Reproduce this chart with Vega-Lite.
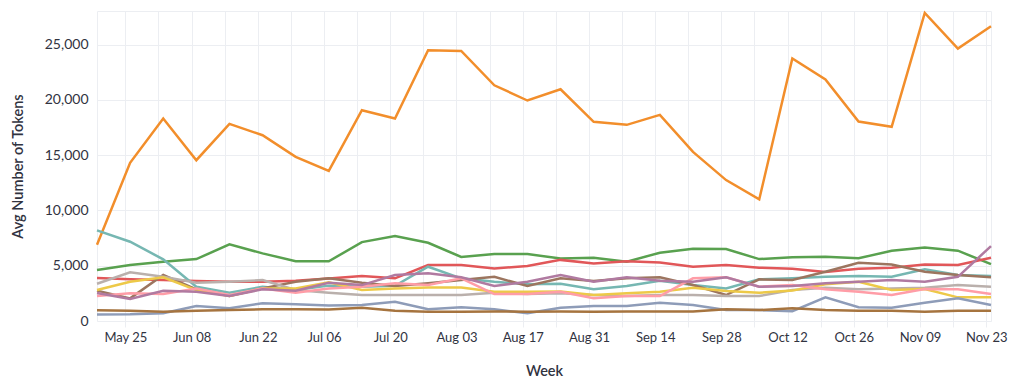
{
"$schema": "https://vega.github.io/schema/vega-lite/v6.json",
"width": 894, "height": 310,
"autosize": {"type": "none"},
"padding": {"left": 97, "top": 11, "right": 23, "bottom": 62},
"background": "white",
"config": {
  "font": "Lato",
  "view": {"stroke": "#ECEEF2", "strokeWidth": 1},
  "axis": {"gridColor": "#ECEEF2", "gridWidth": 1, "domain": false, "labelColor": "#31333F", "titleColor": "#31333F", "labelFontSize": 13, "titleFontSize": 14.5, "titleFontWeight": 600, "labelFont": "Lato", "titleFont": "Lato"}
},
"data": {"values": [
{"week":"2024-05-19","series":"S01","tokens":6900},{"week":"2024-05-26","series":"S01","tokens":14310},{"week":"2024-06-02","series":"S01","tokens":18320},{"week":"2024-06-09","series":"S01","tokens":14550},{"week":"2024-06-16","series":"S01","tokens":17840},{"week":"2024-06-23","series":"S01","tokens":16810},{"week":"2024-06-30","series":"S01","tokens":14850},{"week":"2024-07-07","series":"S01","tokens":13590},{"week":"2024-07-14","series":"S01","tokens":19070},{"week":"2024-07-21","series":"S01","tokens":18320},{"week":"2024-07-28","series":"S01","tokens":24500},{"week":"2024-08-04","series":"S01","tokens":24440},{"week":"2024-08-11","series":"S01","tokens":21330},{"week":"2024-08-18","series":"S01","tokens":19950},{"week":"2024-08-25","series":"S01","tokens":20970},{"week":"2024-09-01","series":"S01","tokens":18020},{"week":"2024-09-08","series":"S01","tokens":17750},{"week":"2024-09-15","series":"S01","tokens":18650},{"week":"2024-09-22","series":"S01","tokens":15300},{"week":"2024-09-29","series":"S01","tokens":12750},{"week":"2024-10-06","series":"S01","tokens":11000},{"week":"2024-10-13","series":"S01","tokens":23750},{"week":"2024-10-20","series":"S01","tokens":21850},{"week":"2024-10-27","series":"S01","tokens":18050},{"week":"2024-11-03","series":"S01","tokens":17570},{"week":"2024-11-10","series":"S01","tokens":27870},{"week":"2024-11-17","series":"S01","tokens":24650},{"week":"2024-11-24","series":"S01","tokens":26670},
{"week":"2024-05-19","series":"S02","tokens":4610},{"week":"2024-05-26","series":"S02","tokens":5060},{"week":"2024-06-02","series":"S02","tokens":5360},{"week":"2024-06-09","series":"S02","tokens":5600},{"week":"2024-06-16","series":"S02","tokens":6930},{"week":"2024-06-23","series":"S02","tokens":6120},{"week":"2024-06-30","series":"S02","tokens":5400},{"week":"2024-07-07","series":"S02","tokens":5400},{"week":"2024-07-14","series":"S02","tokens":7140},{"week":"2024-07-21","series":"S02","tokens":7680},{"week":"2024-07-28","series":"S02","tokens":7080},{"week":"2024-08-04","series":"S02","tokens":5790},{"week":"2024-08-11","series":"S02","tokens":6060},{"week":"2024-08-18","series":"S02","tokens":6060},{"week":"2024-08-25","series":"S02","tokens":5650},{"week":"2024-09-01","series":"S02","tokens":5730},{"week":"2024-09-08","series":"S02","tokens":5360},{"week":"2024-09-15","series":"S02","tokens":6180},{"week":"2024-09-22","series":"S02","tokens":6540},{"week":"2024-09-29","series":"S02","tokens":6510},{"week":"2024-10-06","series":"S02","tokens":5600},{"week":"2024-10-13","series":"S02","tokens":5760},{"week":"2024-10-20","series":"S02","tokens":5810},{"week":"2024-10-27","series":"S02","tokens":5670},{"week":"2024-11-03","series":"S02","tokens":6360},{"week":"2024-11-10","series":"S02","tokens":6660},{"week":"2024-11-17","series":"S02","tokens":6360},{"week":"2024-11-24","series":"S02","tokens":5150},
{"week":"2024-05-19","series":"S03","tokens":3900},{"week":"2024-05-26","series":"S03","tokens":3770},{"week":"2024-06-02","series":"S03","tokens":3700},{"week":"2024-06-09","series":"S03","tokens":3620},{"week":"2024-06-16","series":"S03","tokens":3550},{"week":"2024-06-23","series":"S03","tokens":3550},{"week":"2024-06-30","series":"S03","tokens":3640},{"week":"2024-07-07","series":"S03","tokens":3840},{"week":"2024-07-14","series":"S03","tokens":4070},{"week":"2024-07-21","series":"S03","tokens":3860},{"week":"2024-07-28","series":"S03","tokens":5060},{"week":"2024-08-04","series":"S03","tokens":5060},{"week":"2024-08-11","series":"S03","tokens":4760},{"week":"2024-08-18","series":"S03","tokens":4970},{"week":"2024-08-25","series":"S03","tokens":5530},{"week":"2024-09-01","series":"S03","tokens":5210},{"week":"2024-09-08","series":"S03","tokens":5400},{"week":"2024-09-15","series":"S03","tokens":5300},{"week":"2024-09-22","series":"S03","tokens":4910},{"week":"2024-09-29","series":"S03","tokens":5060},{"week":"2024-10-06","series":"S03","tokens":4820},{"week":"2024-10-13","series":"S03","tokens":4730},{"week":"2024-10-20","series":"S03","tokens":4430},{"week":"2024-10-27","series":"S03","tokens":4730},{"week":"2024-11-03","series":"S03","tokens":4820},{"week":"2024-11-10","series":"S03","tokens":5120},{"week":"2024-11-17","series":"S03","tokens":5060},{"week":"2024-11-24","series":"S03","tokens":5720},
{"week":"2024-05-19","series":"S04","tokens":8200},{"week":"2024-05-26","series":"S04","tokens":7170},{"week":"2024-06-02","series":"S04","tokens":5580},{"week":"2024-06-09","series":"S04","tokens":3100},{"week":"2024-06-16","series":"S04","tokens":2560},{"week":"2024-06-23","series":"S04","tokens":3100},{"week":"2024-06-30","series":"S04","tokens":2800},{"week":"2024-07-07","series":"S04","tokens":3200},{"week":"2024-07-14","series":"S04","tokens":3100},{"week":"2024-07-21","series":"S04","tokens":3190},{"week":"2024-07-28","series":"S04","tokens":4910},{"week":"2024-08-04","series":"S04","tokens":3860},{"week":"2024-08-11","series":"S04","tokens":3550},{"week":"2024-08-18","series":"S04","tokens":3320},{"week":"2024-08-25","series":"S04","tokens":3360},{"week":"2024-09-01","series":"S04","tokens":2870},{"week":"2024-09-08","series":"S04","tokens":3160},{"week":"2024-09-15","series":"S04","tokens":3640},{"week":"2024-09-22","series":"S04","tokens":3250},{"week":"2024-09-29","series":"S04","tokens":2950},{"week":"2024-10-06","series":"S04","tokens":3770},{"week":"2024-10-13","series":"S04","tokens":3860},{"week":"2024-10-20","series":"S04","tokens":4000},{"week":"2024-10-27","series":"S04","tokens":4070},{"week":"2024-11-03","series":"S04","tokens":4000},{"week":"2024-11-10","series":"S04","tokens":4670},{"week":"2024-11-17","series":"S04","tokens":4160},{"week":"2024-11-24","series":"S04","tokens":4070},
{"week":"2024-05-19","series":"S05","tokens":2750},{"week":"2024-05-26","series":"S05","tokens":2050},{"week":"2024-06-02","series":"S05","tokens":4160},{"week":"2024-06-09","series":"S05","tokens":2870},{"week":"2024-06-16","series":"S05","tokens":2260},{"week":"2024-06-23","series":"S05","tokens":2950},{"week":"2024-06-30","series":"S05","tokens":3550},{"week":"2024-07-07","series":"S05","tokens":3860},{"week":"2024-07-14","series":"S05","tokens":3460},{"week":"2024-07-21","series":"S05","tokens":3160},{"week":"2024-07-28","series":"S05","tokens":3410},{"week":"2024-08-04","series":"S05","tokens":3700},{"week":"2024-08-11","series":"S05","tokens":4000},{"week":"2024-08-18","series":"S05","tokens":3160},{"week":"2024-08-25","series":"S05","tokens":3860},{"week":"2024-09-01","series":"S05","tokens":3620},{"week":"2024-09-08","series":"S05","tokens":3860},{"week":"2024-09-15","series":"S05","tokens":3950},{"week":"2024-09-22","series":"S05","tokens":3250},{"week":"2024-09-29","series":"S05","tokens":2350},{"week":"2024-10-06","series":"S05","tokens":3770},{"week":"2024-10-13","series":"S05","tokens":3720},{"week":"2024-10-20","series":"S05","tokens":4460},{"week":"2024-10-27","series":"S05","tokens":5270},{"week":"2024-11-03","series":"S05","tokens":5120},{"week":"2024-11-10","series":"S05","tokens":4460},{"week":"2024-11-17","series":"S05","tokens":4160},{"week":"2024-11-24","series":"S05","tokens":3950},
{"week":"2024-05-19","series":"S06","tokens":3370},{"week":"2024-05-26","series":"S06","tokens":4400},{"week":"2024-06-02","series":"S06","tokens":4000},{"week":"2024-06-09","series":"S06","tokens":3460},{"week":"2024-06-16","series":"S06","tokens":3550},{"week":"2024-06-23","series":"S06","tokens":3700},{"week":"2024-06-30","series":"S06","tokens":2800},{"week":"2024-07-07","series":"S06","tokens":2550},{"week":"2024-07-14","series":"S06","tokens":2350},{"week":"2024-07-21","series":"S06","tokens":2350},{"week":"2024-07-28","series":"S06","tokens":2350},{"week":"2024-08-04","series":"S06","tokens":2350},{"week":"2024-08-11","series":"S06","tokens":2560},{"week":"2024-08-18","series":"S06","tokens":2440},{"week":"2024-08-25","series":"S06","tokens":2500},{"week":"2024-09-01","series":"S06","tokens":2350},{"week":"2024-09-08","series":"S06","tokens":2260},{"week":"2024-09-15","series":"S06","tokens":2350},{"week":"2024-09-22","series":"S06","tokens":2350},{"week":"2024-09-29","series":"S06","tokens":2260},{"week":"2024-10-06","series":"S06","tokens":2260},{"week":"2024-10-13","series":"S06","tokens":2800},{"week":"2024-10-20","series":"S06","tokens":3010},{"week":"2024-10-27","series":"S06","tokens":2870},{"week":"2024-11-03","series":"S06","tokens":2950},{"week":"2024-11-10","series":"S06","tokens":3010},{"week":"2024-11-17","series":"S06","tokens":3250},{"week":"2024-11-24","series":"S06","tokens":3100},
{"week":"2024-05-19","series":"S07","tokens":2800},{"week":"2024-05-26","series":"S07","tokens":3550},{"week":"2024-06-02","series":"S07","tokens":3950},{"week":"2024-06-09","series":"S07","tokens":2800},{"week":"2024-06-16","series":"S07","tokens":2260},{"week":"2024-06-23","series":"S07","tokens":2950},{"week":"2024-06-30","series":"S07","tokens":2950},{"week":"2024-07-07","series":"S07","tokens":3500},{"week":"2024-07-14","series":"S07","tokens":2800},{"week":"2024-07-21","series":"S07","tokens":2950},{"week":"2024-07-28","series":"S07","tokens":3040},{"week":"2024-08-04","series":"S07","tokens":3040},{"week":"2024-08-11","series":"S07","tokens":2650},{"week":"2024-08-18","series":"S07","tokens":2650},{"week":"2024-08-25","series":"S07","tokens":2680},{"week":"2024-09-01","series":"S07","tokens":2350},{"week":"2024-09-08","series":"S07","tokens":2500},{"week":"2024-09-15","series":"S07","tokens":2650},{"week":"2024-09-22","series":"S07","tokens":3010},{"week":"2024-09-29","series":"S07","tokens":2710},{"week":"2024-10-06","series":"S07","tokens":2560},{"week":"2024-10-13","series":"S07","tokens":2750},{"week":"2024-10-20","series":"S07","tokens":3320},{"week":"2024-10-27","series":"S07","tokens":3550},{"week":"2024-11-03","series":"S07","tokens":2800},{"week":"2024-11-10","series":"S07","tokens":2890},{"week":"2024-11-17","series":"S07","tokens":2140},{"week":"2024-11-24","series":"S07","tokens":2140},
{"week":"2024-05-19","series":"S08","tokens":2260},{"week":"2024-05-26","series":"S08","tokens":2500},{"week":"2024-06-02","series":"S08","tokens":2440},{"week":"2024-06-09","series":"S08","tokens":2950},{"week":"2024-06-16","series":"S08","tokens":2350},{"week":"2024-06-23","series":"S08","tokens":2950},{"week":"2024-06-30","series":"S08","tokens":2560},{"week":"2024-07-07","series":"S08","tokens":2950},{"week":"2024-07-14","series":"S08","tokens":3100},{"week":"2024-07-21","series":"S08","tokens":3410},{"week":"2024-07-28","series":"S08","tokens":3250},{"week":"2024-08-04","series":"S08","tokens":3860},{"week":"2024-08-11","series":"S08","tokens":2440},{"week":"2024-08-18","series":"S08","tokens":2440},{"week":"2024-08-25","series":"S08","tokens":2650},{"week":"2024-09-01","series":"S08","tokens":2050},{"week":"2024-09-08","series":"S08","tokens":2260},{"week":"2024-09-15","series":"S08","tokens":2260},{"week":"2024-09-22","series":"S08","tokens":3860},{"week":"2024-09-29","series":"S08","tokens":3950},{"week":"2024-10-06","series":"S08","tokens":3100},{"week":"2024-10-13","series":"S08","tokens":3250},{"week":"2024-10-20","series":"S08","tokens":2870},{"week":"2024-10-27","series":"S08","tokens":2650},{"week":"2024-11-03","series":"S08","tokens":2350},{"week":"2024-11-10","series":"S08","tokens":2890},{"week":"2024-11-17","series":"S08","tokens":2870},{"week":"2024-11-24","series":"S08","tokens":2440},
{"week":"2024-05-19","series":"S09","tokens":2530},{"week":"2024-05-26","series":"S09","tokens":1990},{"week":"2024-06-02","series":"S09","tokens":2740},{"week":"2024-06-09","series":"S09","tokens":2650},{"week":"2024-06-16","series":"S09","tokens":2260},{"week":"2024-06-23","series":"S09","tokens":2870},{"week":"2024-06-30","series":"S09","tokens":2740},{"week":"2024-07-07","series":"S09","tokens":3450},{"week":"2024-07-14","series":"S09","tokens":3250},{"week":"2024-07-21","series":"S09","tokens":4160},{"week":"2024-07-28","series":"S09","tokens":4310},{"week":"2024-08-04","series":"S09","tokens":3950},{"week":"2024-08-11","series":"S09","tokens":3160},{"week":"2024-08-18","series":"S09","tokens":3550},{"week":"2024-08-25","series":"S09","tokens":4160},{"week":"2024-09-01","series":"S09","tokens":3550},{"week":"2024-09-08","series":"S09","tokens":3950},{"week":"2024-09-15","series":"S09","tokens":3640},{"week":"2024-09-22","series":"S09","tokens":3550},{"week":"2024-09-29","series":"S09","tokens":3950},{"week":"2024-10-06","series":"S09","tokens":3100},{"week":"2024-10-13","series":"S09","tokens":3170},{"week":"2024-10-20","series":"S09","tokens":3410},{"week":"2024-10-27","series":"S09","tokens":3550},{"week":"2024-11-03","series":"S09","tokens":3700},{"week":"2024-11-10","series":"S09","tokens":3550},{"week":"2024-11-17","series":"S09","tokens":4000},{"week":"2024-11-24","series":"S09","tokens":6780},
{"week":"2024-05-19","series":"S10","tokens":580},{"week":"2024-05-26","series":"S10","tokens":600},{"week":"2024-06-02","series":"S10","tokens":700},{"week":"2024-06-09","series":"S10","tokens":1360},{"week":"2024-06-16","series":"S10","tokens":1150},{"week":"2024-06-23","series":"S10","tokens":1600},{"week":"2024-06-30","series":"S10","tokens":1510},{"week":"2024-07-07","series":"S10","tokens":1400},{"week":"2024-07-14","series":"S10","tokens":1450},{"week":"2024-07-21","series":"S10","tokens":1750},{"week":"2024-07-28","series":"S10","tokens":1060},{"week":"2024-08-04","series":"S10","tokens":1240},{"week":"2024-08-11","series":"S10","tokens":1060},{"week":"2024-08-18","series":"S10","tokens":700},{"week":"2024-08-25","series":"S10","tokens":1200},{"week":"2024-09-01","series":"S10","tokens":1360},{"week":"2024-09-08","series":"S10","tokens":1360},{"week":"2024-09-15","series":"S10","tokens":1650},{"week":"2024-09-22","series":"S10","tokens":1450},{"week":"2024-09-29","series":"S10","tokens":990},{"week":"2024-10-06","series":"S10","tokens":990},{"week":"2024-10-13","series":"S10","tokens":880},{"week":"2024-10-20","series":"S10","tokens":2140},{"week":"2024-10-27","series":"S10","tokens":1240},{"week":"2024-11-03","series":"S10","tokens":1200},{"week":"2024-11-10","series":"S10","tokens":1650},{"week":"2024-11-17","series":"S10","tokens":2050},{"week":"2024-11-24","series":"S10","tokens":1450},
{"week":"2024-05-19","series":"S11","tokens":980},{"week":"2024-05-26","series":"S11","tokens":930},{"week":"2024-06-02","series":"S11","tokens":840},{"week":"2024-06-09","series":"S11","tokens":930},{"week":"2024-06-16","series":"S11","tokens":990},{"week":"2024-06-23","series":"S11","tokens":1060},{"week":"2024-06-30","series":"S11","tokens":1060},{"week":"2024-07-07","series":"S11","tokens":1030},{"week":"2024-07-14","series":"S11","tokens":1200},{"week":"2024-07-21","series":"S11","tokens":930},{"week":"2024-07-28","series":"S11","tokens":840},{"week":"2024-08-04","series":"S11","tokens":840},{"week":"2024-08-11","series":"S11","tokens":870},{"week":"2024-08-18","series":"S11","tokens":840},{"week":"2024-08-25","series":"S11","tokens":860},{"week":"2024-09-01","series":"S11","tokens":840},{"week":"2024-09-08","series":"S11","tokens":860},{"week":"2024-09-15","series":"S11","tokens":860},{"week":"2024-09-22","series":"S11","tokens":870},{"week":"2024-09-29","series":"S11","tokens":1060},{"week":"2024-10-06","series":"S11","tokens":990},{"week":"2024-10-13","series":"S11","tokens":1150},{"week":"2024-10-20","series":"S11","tokens":990},{"week":"2024-10-27","series":"S11","tokens":930},{"week":"2024-11-03","series":"S11","tokens":930},{"week":"2024-11-10","series":"S11","tokens":840},{"week":"2024-11-17","series":"S11","tokens":930},{"week":"2024-11-24","series":"S11","tokens":930}
]},
"mark": {"type": "line", "strokeWidth": 2.5},
"encoding": {
  "x": {"field": "week", "type": "temporal",
    "scale": {"type": "utc", "domain": [{"year": 2024, "month": 5, "date": 19, "utc": true}, {"year": 2024, "month": 11, "date": 24, "utc": true}]},
    "axis": {"title": "Week", "titlePadding": 20, "format": "%b %d", "formatType": "utc", "labelPadding": 4, "tickSize": 6, "tickColor": "#ECEEF2", "labelFlush": false, "labelOverlap": false,
      "labelExpr": "round((datum.value - 1716595200000) / 604800000) % 2 == 0 ? utcFormat(datum.value, '%b %d') : ''",
      "values": [
        {"year":2024,"month":5,"date":25,"utc":true},{"year":2024,"month":6,"date":1,"utc":true},{"year":2024,"month":6,"date":8,"utc":true},{"year":2024,"month":6,"date":15,"utc":true},{"year":2024,"month":6,"date":22,"utc":true},{"year":2024,"month":6,"date":29,"utc":true},{"year":2024,"month":7,"date":6,"utc":true},{"year":2024,"month":7,"date":13,"utc":true},{"year":2024,"month":7,"date":20,"utc":true},{"year":2024,"month":7,"date":27,"utc":true},{"year":2024,"month":8,"date":3,"utc":true},{"year":2024,"month":8,"date":10,"utc":true},{"year":2024,"month":8,"date":17,"utc":true},{"year":2024,"month":8,"date":24,"utc":true},{"year":2024,"month":8,"date":31,"utc":true},{"year":2024,"month":9,"date":7,"utc":true},{"year":2024,"month":9,"date":14,"utc":true},{"year":2024,"month":9,"date":21,"utc":true},{"year":2024,"month":9,"date":28,"utc":true},{"year":2024,"month":10,"date":5,"utc":true},{"year":2024,"month":10,"date":12,"utc":true},{"year":2024,"month":10,"date":19,"utc":true},{"year":2024,"month":10,"date":26,"utc":true},{"year":2024,"month":11,"date":2,"utc":true},{"year":2024,"month":11,"date":9,"utc":true},{"year":2024,"month":11,"date":16,"utc":true},{"year":2024,"month":11,"date":23,"utc":true}
      ]}},
  "y": {"field": "tokens", "type": "quantitative",
    "scale": {"domain": [0, 28050], "nice": false, "zero": true},
    "axis": {"title": "Avg Number of Tokens", "values": [0, 5000, 10000, 15000, 20000, 25000], "format": ",.0f", "ticks": false, "labelPadding": 9, "labelFontSize": 14, "titlePadding": 19}},
  "color": {"field": "series", "type": "nominal", "legend": null,
    "scale": {"domain": ["S01","S02","S03","S04","S05","S06","S07","S08","S09","S10","S11"],
      "range": ["#F28E2B","#59A14F","#E15759","#76B7B2","#9C755F","#BAB0AC","#EDC948","#FF9DA7","#B07AA1","#8E9CB8","#A6743F"]}}
}
}
